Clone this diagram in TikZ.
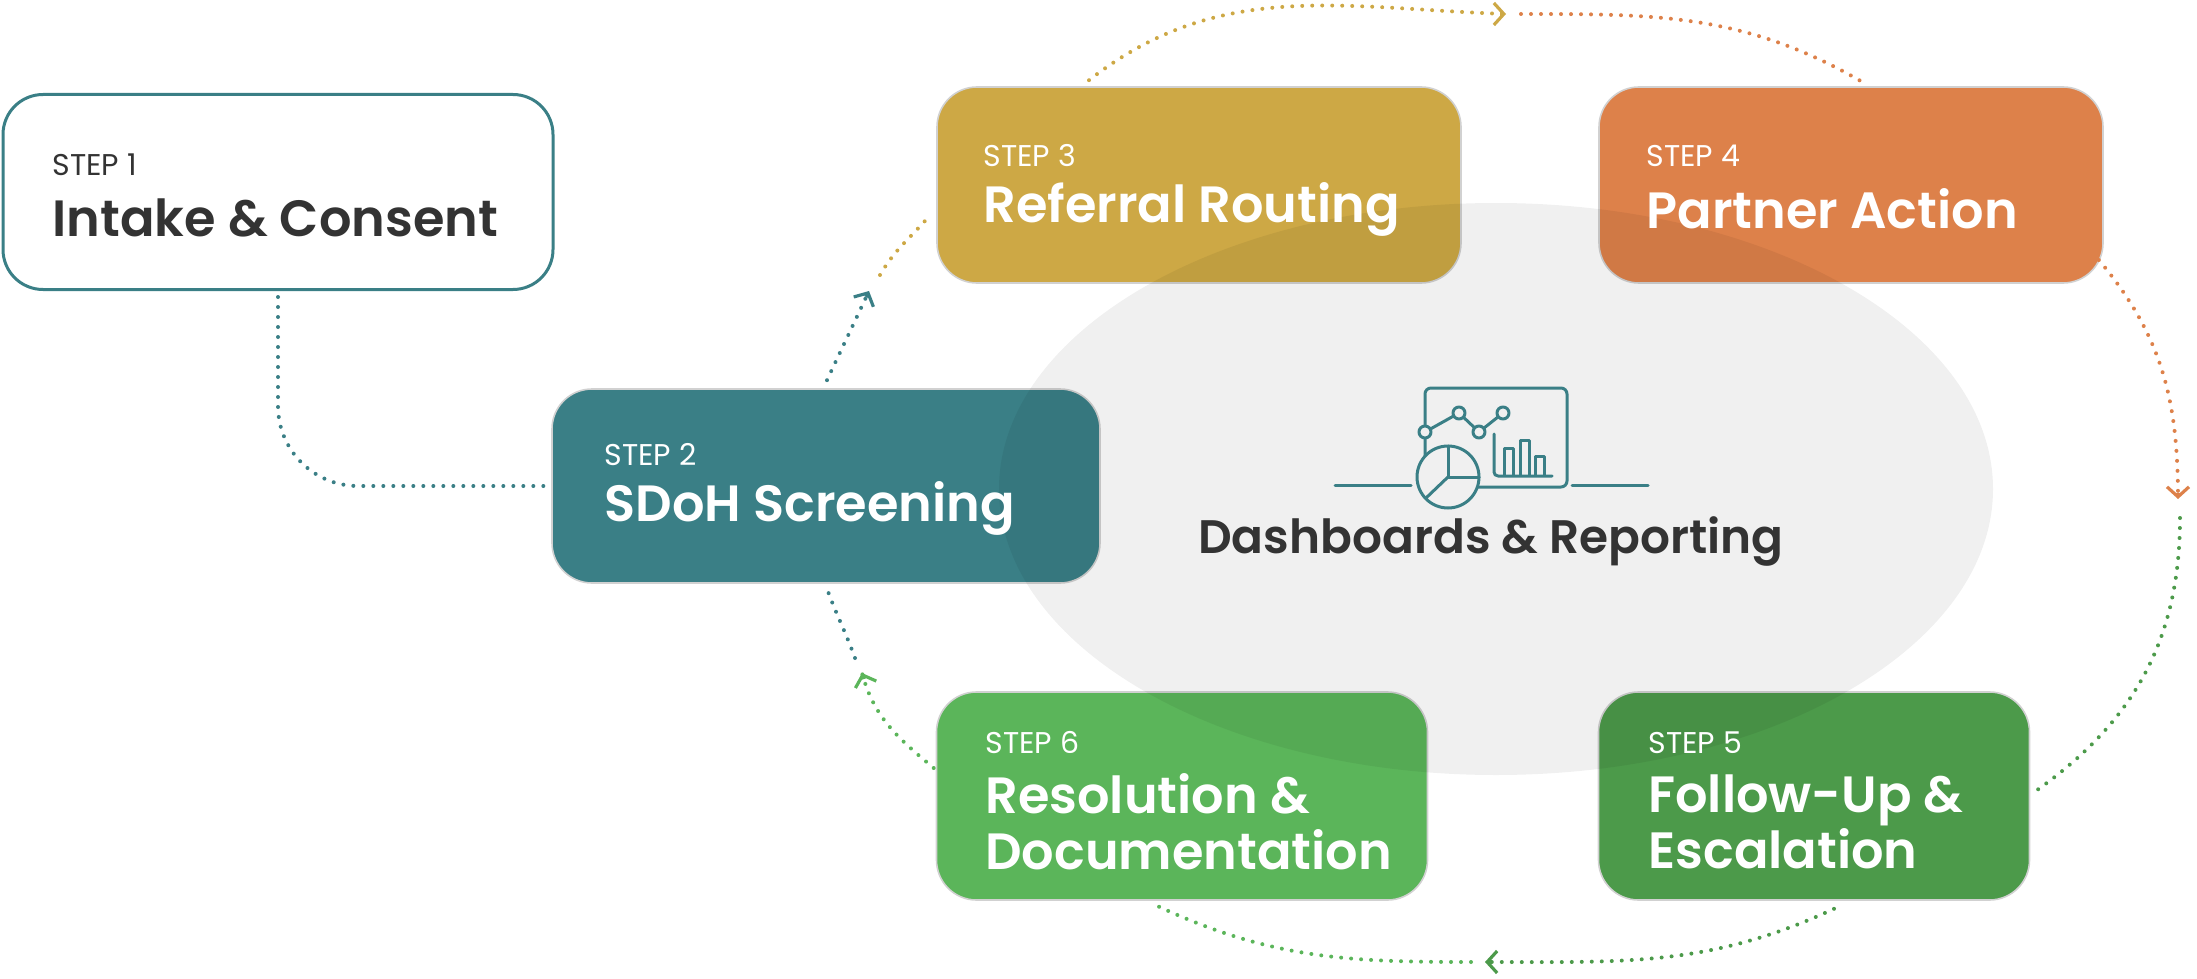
\documentclass[tikz,border=0pt]{standalone}
\usepackage{fontspec}
\setmainfont{Poppins}[BoldFont={* SemiBold}]
\usetikzlibrary{arrows.meta,calc}
\definecolor{tealc}{HTML}{3A7F86}
\definecolor{gold}{HTML}{CDA845}
\definecolor{orng}{HTML}{DD814A}
\definecolor{dgreen}{HTML}{4C9A4A}
\definecolor{lgreen}{HTML}{5BB55A}
\definecolor{txt}{HTML}{333333}
\definecolor{bg}{HTML}{F0F0F0}
\tikzset{
  box/.style={draw=black!18, line width=0.8pt, rounded corners=20pt, inner sep=0pt},
  stp/.style={anchor=west, inner sep=0pt, font=\fontsize{15}{17}\selectfont, text=white},
  ttl/.style={anchor=west, inner sep=0pt, font=\fontsize{25.5}{28}\selectfont\bfseries, text=white, align=left},
  flow/.style={line width=2pt, line cap=round, dash pattern=on 0pt off 5pt},
  tip/.style={-{Straight Barb[length=5pt,width=11pt,line width=1.6pt]}, dash pattern=},
  ico/.style={draw=tealc, line width=1.5pt, line cap=round, line join=round}
}
\begin{document}
\begin{tikzpicture}[x=0.5pt,y=-0.5pt]
\useasboundingbox (0,0) rectangle (2197,979);
% boxes
\node[box, draw=tealc, line width=1.5pt, fill=white, minimum width=275pt, minimum height=97.5pt] (b1) at (278,192) {};
\node[box, fill=tealc, minimum width=274pt, minimum height=97pt] (b2) at (826,486) {};
\node[box, fill=gold, minimum width=262pt, minimum height=98pt] (b3) at (1199,185) {};
\node[box, fill=orng, minimum width=252pt, minimum height=98pt] (b4) at (1851,185) {};
\node[box, fill=dgreen, minimum width=215.5pt, minimum height=104pt] (b5) at (1814,796) {};
\node[box, fill=lgreen, minimum width=245.5pt, minimum height=104pt] (b6) at (1182,796) {};
% ellipse overlay
\fill[black, opacity=0.06] (1496,489) ellipse [x radius=497, y radius=286];
% texts
\node[stp, text=txt] (s1) at (52,165) {STEP 1};
\node[ttl, text=txt] (t1) at (52,218) {Intake \& Consent};
\node[stp] (s2) at (604,455) {STEP 2};
\node[ttl] (t2) at (604,508) {SDoH Screening};
\node[stp] (s3) at (983,156) {STEP 3};
\node[ttl] (t3) at (983,209) {Referral Routing};
\node[stp] (s4) at (1646,156) {STEP 4};
\node[ttl] (t4) at (1646,209) {Partner Action};
\node[stp] (s5) at (1648,743) {STEP 5};
\node[ttl] (t5) at (1648,822) {Follow-Up \&\\Escalation};
\node[stp] (s6) at (985,743) {STEP 6};
\node[ttl] (t6) at (985,822) {Resolution \&\\Documentation};
\node[font=\fontsize{23.5}{26}\selectfont\bfseries, text=txt] (dash) at (1491,541) {Dashboards \& Reporting};
% icon
\draw[ico] (1335,485) -- (1411,485);
\draw[ico] (1572,485) -- (1648,485);
\draw[ico, rounded corners=3pt] (1425,470) -- (1425,388) -- (1567,388) -- (1567,487) -- (1470,487);
\draw[ico] (1425,432) -- (1459,413) -- (1479,432) -- (1503,413);
\foreach \p in {(1425,432),(1459,413),(1479,432),(1503,413)} \draw[ico, fill=bg] \p circle (6);
\draw[ico, fill=bg] (1448,477) circle (31);
\draw[ico] (1448,446) -- (1448,477) -- (1479,477);
\draw[ico] (1448,477) -- (1426,498);
\draw[ico, rounded corners=2pt] (1494,434) -- (1494,476) -- (1552,476);
\draw[ico] (1504,475) -- (1504,448) -- (1513,448) -- (1513,475);
\draw[ico] (1520,475) -- (1520,440) -- (1529,440) -- (1529,475);
\draw[ico] (1535,475) -- (1535,456) -- (1544,456) -- (1544,475);
% connector coordinates
\coordinate (a1) at (869,291);
\coordinate (a1s) at (880,275);
\coordinate (a2) at (1506,14);
\coordinate (a2s) at (1521,14);
\coordinate (a3) at (2178,499);
\coordinate (a3s) at (2180,518);
\coordinate (a4) at (1485,962);
\coordinate (a4s) at (1471,962);
\coordinate (a5) at (862,673);
\coordinate (a5s) at (855,658);
% connectors
\draw[flow, tealc, rounded corners=40pt] ($(b1.south)+(0,6)$) -- (b1.south |- b2.west) -- ($(b2.west)+(-6,0)$);
\draw[flow, tealc] ($(b2.north)+(1,-8)$) to[out=65,in=-115] (a1);
\draw[tealc, line width=2pt, tip] ($(a1)+(-3,6)$) -- (a1);
\draw[flow, gold] (a1s) to[out=60,in=-130] ($(b3.south west)+(-5,-70)$);
\draw[flow, gold] ($(b3.north)+(-110,-6)$) to[out=38,in=178] (a2);
\draw[gold, line width=2pt, tip] ($(a2)+(-6,0)$) -- (a2);
\draw[flow, orng] (a2s) to[out=0,in=150] ($(b4.north)+(10,-5)$);
\draw[flow, orng] ($(b4.east)+(-5,75)$) to[out=-50,in=90] (a3);
\draw[orng, line width=2pt, tip] ($(a3)+(0,-6)$) -- (a3);
\draw[flow, dgreen] (a3s) to[out=-90,in=35] ($(b5.east)+(4,-4)$);
\draw[flow, dgreen] ($(b5.south)+(20,8)$) to[out=-155,in=0] (a4);
\draw[dgreen, line width=2pt, tip] ($(a4)+(6,0)$) -- (a4);
\draw[flow, lgreen] (a4s) to[out=180,in=-25] ($(b6.south)+(-25,5)$);
\draw[flow, lgreen] ($(b6.west)+(-2,-28)$) to[out=140,in=-75] (a5);
\draw[lgreen, line width=2pt, tip] ($(a5)+(2,6)$) -- (a5);
\draw[flow, tealc] (a5s) to[out=110,in=-70] ($(b2.south)+(1,5)$);
\end{tikzpicture}
\end{document}
